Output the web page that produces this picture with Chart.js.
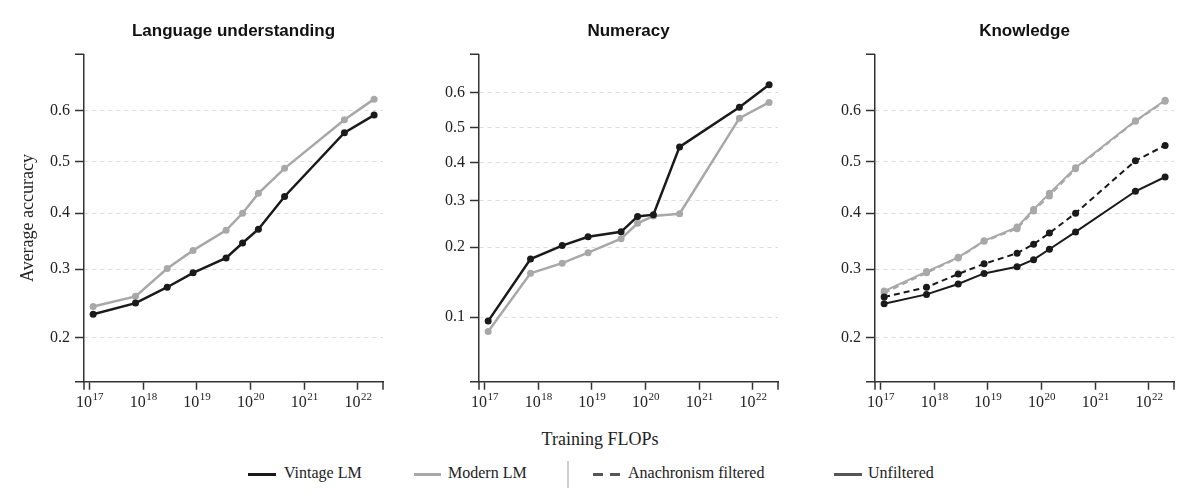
<!DOCTYPE html>
<html>
<head>
<meta charset="utf-8">
<script src="https://cdn.jsdelivr.net/npm/chart.js@4.4.1/dist/chart.umd.min.js"></script>
<style>
  html, body { margin: 0; padding: 0; background: #fff; }
  #wrap { position: relative; width: 1200px; height: 503px; overflow: hidden; font-family: "Liberation Serif", serif; color: #222; }
  .panel { position: absolute; top: 0; width: 400px; height: 420px; }
  #xtitle { position: absolute; left: 0; width: 1200px; top: 429px; text-align: center; font-size: 18px; }
  .leg { position: absolute; top: 463px; font-size: 16px; line-height: 20px; white-space: nowrap; }
  .sw { position: absolute; height: 0; }
</style>
</head>
<body>
<div id="wrap">
  <div class="panel" style="left:0px"><canvas id="c0" width="400" height="420"></canvas></div>
  <div class="panel" style="left:395px"><canvas id="c1" width="400" height="420"></canvas></div>
  <div class="panel" style="left:791px"><canvas id="c2" width="400" height="420"></canvas></div>
  <div id="xtitle">Training FLOPs</div>

  <div class="sw" style="left:248px;top:473px;width:28px;border-top:3px solid #1a1a1a"></div>
  <div class="leg" style="left:284px">Vintage LM</div>
  <div class="sw" style="left:414px;top:473px;width:27px;border-top:3px solid #a8a8a8"></div>
  <div class="leg" style="left:448px">Modern LM</div>
  <div class="sw" style="left:567px;top:461px;width:0;height:27px;border-left:2px solid #d0d0d0"></div>
  <div class="sw" style="left:593px;top:473px;width:10px;border-top:3px solid #555"></div>
  <div class="sw" style="left:610px;top:473px;width:10px;border-top:3px solid #555"></div>
  <div class="leg" style="left:628px">Anachronism filtered</div>
  <div class="sw" style="left:834px;top:473px;width:28px;border-top:3px solid #555"></div>
  <div class="leg" style="left:868px">Unfiltered</div>
</div>
<script>
// training compute of each checkpoint (FLOPs)
const flops = [1.17e17, 7.2e17, 2.8e18, 8.5e18, 3.5e19, 7.1e19, 1.4e20, 4.3e20, 5.6e21, 2.0e22];
const xTickExps = [17, 18, 19, 20, 21, 22];

// Language understanding
const langVintage = [0.231, 0.247, 0.271, 0.294, 0.319, 0.345, 0.370, 0.432, 0.557, 0.591];
const langModern  = [0.242, 0.257, 0.301, 0.332, 0.368, 0.400, 0.438, 0.487, 0.582, 0.621];

// Numeracy
const numVintage = [0.096, 0.179, 0.203, 0.220, 0.230, 0.263, 0.267, 0.444, 0.558, 0.621];
const numModern  = [0.086, 0.156, 0.172, 0.190, 0.216, 0.248, 0.264, 0.269, 0.527, 0.572];

// Knowledge (filtered = anachronism filtered)
const knowVintageUnf  = [0.246, 0.260, 0.276, 0.293, 0.304, 0.316, 0.334, 0.365, 0.442, 0.470];
const knowVintageFilt = [0.256, 0.271, 0.292, 0.309, 0.327, 0.343, 0.363, 0.400, 0.502, 0.532];
const knowModernUnf   = [0.265, 0.296, 0.320, 0.349, 0.374, 0.407, 0.438, 0.488, 0.580, 0.619];
const knowModernFilt  = [0.262, 0.294, 0.319, 0.348, 0.371, 0.404, 0.433, 0.486, 0.579, 0.617];

const yTicksMain = [0.2, 0.3, 0.4, 0.5, 0.6];
const yTicksNum  = [0.1, 0.2, 0.3, 0.4, 0.5, 0.6];

const BLACK = '#1a1a1a';
const GRAY = '#a8a8a8';
const SERIF = '"Liberation Serif", "Times New Roman", serif';

// logit axis (accuracy is shown on a logit scale)
const logit = p => Math.log(p / (1 - p));
class LogitScale extends Chart.Scale {
  parse(raw) { return typeof raw === 'number' ? raw : +raw; }
  determineDataLimits() {
    const mm = this.getMinMax(true);
    this.min = this.options.min != null ? this.options.min : mm.min;
    this.max = this.options.max != null ? this.options.max : mm.max;
  }
  buildTicks() {
    return (this.options.tickValues || []).map(v => ({ value: v }));
  }
  configure() {
    super.configure();
    this._start = logit(this.min);
    this._range = logit(this.max) - this._start;
  }
  getLabelForValue(v) { return String(v); }
  getPixelForValue(v) {
    return this.getPixelForDecimal((logit(v) - this._start) / this._range);
  }
  getValueForPixel(px) {
    const l = this._start + this.getDecimalForPixel(px) * this._range;
    return 1 / (1 + Math.exp(-l));
  }
}
LogitScale.id = 'logit';
LogitScale.defaults = {};
Chart.register(LogitScale);

Chart.defaults.font.family = SERIF;
Chart.defaults.color = '#222';

// outer ticks + 10^n labels on the x axis
const axisExtras = {
  id: 'axisExtras',
  afterDraw(chart) {
    const { ctx, chartArea: a, scales: { x } } = chart;
    ctx.save();
    ctx.strokeStyle = '#333';
    ctx.lineWidth = 1.5;
    ctx.beginPath();
    ctx.moveTo(a.left - 9, a.top); ctx.lineTo(a.left, a.top);
    ctx.moveTo(a.left - 9, a.bottom); ctx.lineTo(a.left, a.bottom);
    ctx.moveTo(a.left, a.bottom); ctx.lineTo(a.left, a.bottom + 8);
    ctx.moveTo(a.right, a.bottom); ctx.lineTo(a.right, a.bottom + 8);
    ctx.stroke();

    ctx.fillStyle = '#222';
    ctx.textAlign = 'left';
    ctx.textBaseline = 'alphabetic';
    x.ticks.forEach(t => {
      const px = x.getPixelForValue(t.value);
      const exp = String(Math.round(Math.log10(t.value)));
      ctx.font = '16px ' + SERIF;
      const w1 = ctx.measureText('10').width;
      ctx.font = '11px ' + SERIF;
      const w2 = ctx.measureText(exp).width;
      const start = px - (w1 + w2) / 2;
      ctx.font = '16px ' + SERIF;
      ctx.fillText('10', start, a.bottom + 25);
      ctx.font = '11px ' + SERIF;
      ctx.fillText(exp, start + w1 + 0.5, a.bottom + 18);
    });
    ctx.restore();
  }
};

function line(label, data, color, width, dashed) {
  return {
    label: label,
    data: data.map((v, i) => ({ x: flops[i], y: v })),
    borderColor: color,
    backgroundColor: color,
    borderWidth: width,
    borderDash: dashed ? [6, 4] : [],
    pointRadius: 3.5,
    pointBorderWidth: 0,
    pointBackgroundColor: color,
    tension: 0
  };
}

function makePanel(id, title, datasets, yMin, yTicks, showYTitle) {
  new Chart(document.getElementById(id), {
    type: 'line',
    data: { datasets: datasets },
    plugins: [axisExtras],
    options: {
      responsive: false,
      animation: false,
      layout: { padding: { right: 17, left: 0, top: 0, bottom: 0 } },
      plugins: {
        legend: { display: false },
        tooltip: { enabled: false },
        title: {
          display: true,
          text: title,
          fullSize: false,
          color: '#111',
          font: { family: '"Liberation Sans", Arial, sans-serif', size: 17, weight: 'bold' },
          padding: { top: 21.5, bottom: 12.4 }
        }
      },
      scales: {
        x: {
          type: 'logarithmic',
          min: 7.9e16,
          max: 2.93e22,
          afterBuildTicks: axis => { axis.ticks = xTickExps.map(k => ({ value: Math.pow(10, k) })); },
          afterFit: s => { s.height = 38.3; },
          ticks: { display: false },
          grid: { drawOnChartArea: false, drawTicks: true, tickLength: 8, tickColor: '#333', tickWidth: 1.5 },
          border: { color: '#333', width: 1.5 }
        },
        y: {
          type: 'logit',
          min: yMin,
          max: 0.7,
          tickValues: yTicks,
          afterFit: s => { s.width = 84; },
          ticks: {
            callback: v => v.toFixed(1),
            font: { family: SERIF, size: 16 },
            color: '#222',
            padding: 5
          },
          grid: { color: '#dcdcdc', lineWidth: 1, drawTicks: true, tickLength: 9, tickColor: '#333', tickWidth: 1.5 },
          border: { color: '#333', width: 1.5, dash: [4, 4] },
          title: {
            display: showYTitle,
            text: 'Average accuracy',
            font: { family: SERIF, size: 18 },
            color: '#222',
            padding: { top: 17.5, bottom: 0 }
          }
        }
      }
    }
  });
}

makePanel('c0', 'Language understanding', [
  line('Vintage LM', langVintage, BLACK, 2.5, false),
  line('Modern LM', langModern, GRAY, 2.5, false)
], 0.15, yTicksMain, true);

makePanel('c1', 'Numeracy', [
  line('Vintage LM', numVintage, BLACK, 2.5, false),
  line('Modern LM', numModern, GRAY, 2.5, false)
], 0.05, yTicksNum, false);

makePanel('c2', 'Knowledge', [
  line('Vintage LM, anachronism filtered', knowVintageFilt, BLACK, 2, true),
  line('Vintage LM, unfiltered', knowVintageUnf, BLACK, 2, false),
  line('Modern LM, anachronism filtered', knowModernFilt, GRAY, 2, true),
  line('Modern LM, unfiltered', knowModernUnf, GRAY, 2, false)
], 0.15, yTicksMain, false);
</script>
</body>
</html>
